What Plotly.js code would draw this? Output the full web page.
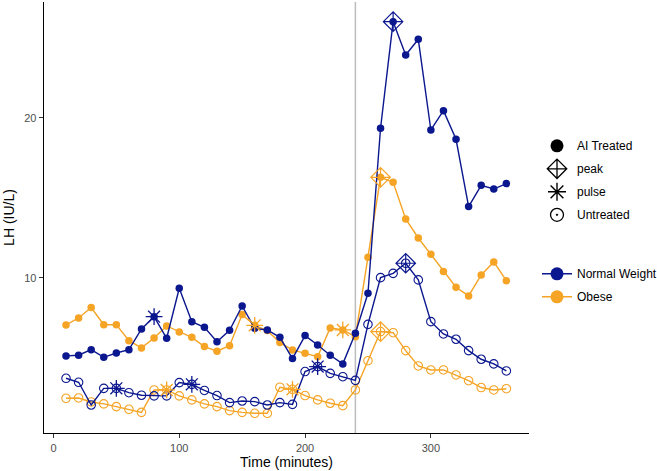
<!DOCTYPE html>
<html>
<head>
<meta charset="utf-8">
<script src="https://cdn.plot.ly/plotly-3.0.1.min.js"></script>
<style>html,body{margin:0;padding:0;background:#fff;}#chart{width:657px;height:471px;}</style>
</head>
<body>
<div id="chart"></div>
<script>
const time = [10,20,30,40,50,60,70,80,90,100,110,120,130,140,150,160,170,180,190,200,210,220,230,240,250,260,270,280,290,300,310,320,330,340,350,360];
const normalAI = [5.13,5.17,5.52,5.04,5.31,5.52,6.81,7.58,6.23,9.36,7.27,6.92,6.02,6.73,8.25,6.85,6.75,6.29,4.96,6.4,5.81,5.17,4.63,6.55,9.04,19.36,26.02,23.94,24.92,19.25,20.46,18.67,14.46,15.79,15.56,15.9];
const obeseAI = [7.06,7.5,8.15,7.08,7.08,6.08,5.63,6.25,7.0,6.63,6.29,5.71,5.42,5.77,7.71,7.04,6.71,5.96,5.5,5.29,5.08,6.88,6.75,6.33,11.29,16.29,15.98,13.69,12.5,11.48,10.4,9.42,8.88,10.19,11.0,9.83];
const normalUn = [3.73,3.48,2.06,3.1,3.1,2.83,2.67,2.63,2.63,3.46,3.35,2.97,2.65,2.21,2.31,2.27,2.06,2.21,2.1,4.15,4.46,4.04,3.83,3.6,7.1,10.02,10.29,10.92,9.88,7.27,6.5,6.17,5.46,4.92,4.63,4.19];
const obeseUn = [2.48,2.5,2.25,2.13,1.96,1.79,1.6,3.0,3.0,2.63,2.38,2.13,1.96,1.71,1.6,1.54,1.54,3.17,3.04,2.65,2.38,2.17,2.02,3.0,4.83,6.65,6.58,5.46,4.5,4.25,4.25,3.94,3.58,3.15,3.0,3.08];

const pulseNormalAI = [80];
const pulseObeseAI = [160,230];
const pulseNormalUn = [50,110,210];
const pulseObeseUn = [90,190];
const peakNormalAI = [270];
const peakObeseAI = [260];
const peakNormalUn = [280];
const peakObeseUn = [260];

const treatmentTime = 240;
const xTicks = [0,100,200,300];
const yTicks = [10,20];

const NAVY = '#0b178e';
const ORANGE = '#f5a425';

const series = [
  {y: obeseUn, color: ORANGE, filled: false, pulse: pulseObeseUn, peak: peakObeseUn},
  {y: normalUn, color: NAVY, filled: false, pulse: pulseNormalUn, peak: peakNormalUn},
  {y: obeseAI, color: ORANGE, filled: true, pulse: pulseObeseAI, peak: peakObeseAI},
  {y: normalAI, color: NAVY, filled: true, pulse: pulseNormalAI, peak: peakNormalAI}
];

const traces = [];
series.forEach(s => {
  traces.push({
    x: time, y: s.y, type: 'scatter', mode: 'lines+markers', showlegend: false,
    line: {color: s.color, width: 1.4},
    marker: s.filled ? {symbol: 'circle', size: 7.5, color: s.color}
                     : {symbol: 'circle-open', size: 8.5, color: s.color, line: {width: 1.1, color: s.color}},
    hoverinfo: 'x+y'
  });
});
series.forEach(s => {
  const pick = arr => ({x: arr, y: arr.map(t => s.y[time.indexOf(t)])});
  const pk = pick(s.peak);
  traces.push({
    x: pk.x, y: pk.y, type: 'scatter', mode: 'markers', showlegend: false,
    marker: {symbol: 'diamond-cross-open', size: 15, color: s.color, line: {width: 1.2, color: s.color}}
  });
  const pl = pick(s.pulse);
  traces.push({
    x: pl.x, y: pl.y, type: 'scatter', mode: 'markers', showlegend: false,
    marker: {symbol: 'asterisk-open', size: 14, color: s.color, line: {width: 1.3, color: s.color}}
  });
});

// legend entries (shape)
const shapeLegend = [
  {name: 'AI Treated', symbol: 'circle', size: 13, lw: 0},
  {name: 'peak', symbol: 'diamond-cross-open', size: 15, lw: 1.3},
  {name: 'pulse', symbol: 'asterisk-open', size: 15, lw: 1.4},
  {name: 'Untreated', symbol: 'circle-open-dot', size: 13, lw: 1.3}
];
shapeLegend.forEach((d, i) => {
  traces.push({
    x: [null], y: [null], type: 'scatter', mode: 'markers', name: d.name,
    legend: 'legend', legendgroup: 's' + i, showlegend: true,
    marker: {symbol: d.symbol, size: d.size, color: '#000', line: {width: d.lw, color: '#000'}}
  });
});
const colourLegend = [
  {name: 'Normal Weight', color: NAVY},
  {name: 'Obese', color: ORANGE}
];
colourLegend.forEach((d, i) => {
  traces.push({
    x: [null], y: [null], type: 'scatter', mode: 'lines+markers', name: d.name,
    legend: 'legend2', legendgroup: 'c' + i, showlegend: true,
    line: {color: d.color, width: 1.4},
    marker: {symbol: 'circle', size: 13, color: d.color}
  });
});

const layout = {
  width: 657, height: 471,
  margin: {l: 43.5, r: 128, t: 2, b: 38, autoexpand: false},
  paper_bgcolor: '#fff', plot_bgcolor: '#fff',
  font: {family: 'Liberation Sans, Arial, sans-serif', color: '#000'},
  xaxis: {
    range: [-7.5, 378], tickvals: xTicks, ticktext: xTicks.map(String),
    showgrid: false, zeroline: false, showline: true, linecolor: '#000', linewidth: 1.3,
    ticks: 'outside', ticklen: 4, tickwidth: 1, tickcolor: '#333',
    tickfont: {size: 11, color: '#4d4d4d'},
    title: {text: 'Time (minutes)', font: {size: 14, color: '#000'}, standoff: 4}
  },
  yaxis: {
    range: [0.31, 27.25], tickvals: yTicks, ticktext: yTicks.map(String),
    showgrid: false, zeroline: false, showline: true, linecolor: '#000', linewidth: 1.3,
    ticks: 'outside', ticklen: 4, tickwidth: 1, tickcolor: '#333',
    tickfont: {size: 11, color: '#4d4d4d'},
    title: {text: 'LH (IU/L)', font: {size: 14, color: '#000'}, standoff: 6}
  },
  shapes: [{
    type: 'line', xref: 'x', yref: 'paper', x0: treatmentTime, x1: treatmentTime, y0: 0, y1: 1,
    line: {color: '#bdbdbd', width: 1.5}, layer: 'below'
  }],
  legend: {
    x: 1.0165, xanchor: 'left', y: 0.70, yanchor: 'top',
    font: {size: 12, color: '#000'}, traceorder: 'grouped', tracegroupgap: 4,
    bgcolor: 'rgba(0,0,0,0)', itemsizing: 'trace'
  },
  legend2: {
    x: 1.0165, xanchor: 'left', y: 0.403, yanchor: 'top',
    font: {size: 12, color: '#000'}, traceorder: 'grouped', tracegroupgap: 4,
    bgcolor: 'rgba(0,0,0,0)', itemsizing: 'trace'
  },
  showlegend: true
};

Plotly.newPlot('chart', traces, layout, {displayModeBar: false, staticPlot: true});
</script>
</body>
</html>
